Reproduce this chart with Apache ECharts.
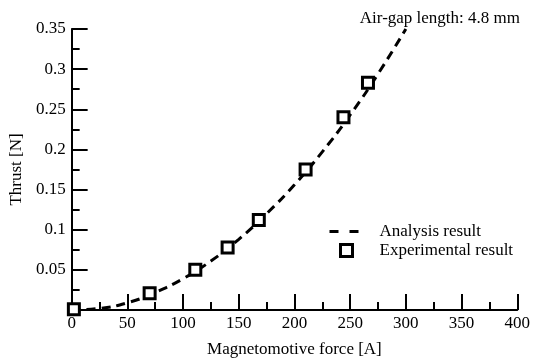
<!DOCTYPE html>
<html>
<head>
<meta charset="utf-8">
<script src="https://cdn.jsdelivr.net/npm/echarts@6/dist/echarts.min.js"></script>
<style>
  html, body { margin: 0; padding: 0; background: #fff; }
  #chart { width: 533px; height: 363px; }
</style>
</head>
<body>
<div id="chart"></div>
<script>
  // analysis curve
  const analysisForce = [0, 25, 50, 75, 100, 125, 150, 175, 200, 225, 250, 275, 300];
  const analysisThrust = [0, 0.002, 0.009, 0.022, 0.039, 0.061, 0.088, 0.12, 0.156, 0.197, 0.243, 0.294, 0.35];
  // measured points (squares)
  const expForce = [2, 70, 111, 140, 168, 210, 244, 266];
  const expThrust = [0.001, 0.021, 0.05, 0.078, 0.112, 0.175, 0.24, 0.283];

  const seriesNames = ['Analysis result', 'Experimental result'];
  const note = 'Air-gap length: 4.8 mm';
  const xName = 'Magnetomotive force [A]';
  const yName = 'Thrust [N]';

  const font = 'Liberation Serif';
  const fs = 17;

  const chart = echarts.init(document.getElementById('chart'));

  const axisCommon = {
    axisLine: {show: true, onZero: false, lineStyle: {color: '#000', width: 2}},
    axisTick: {show: true, inside: true, length: 16, lineStyle: {color: '#000', width: 2}},
    minorTick: {show: true, splitNumber: 2, length: 8, lineStyle: {color: '#000', width: 2}},
    splitLine: {show: false},
    nameTextStyle: {color: '#000', fontFamily: font, fontSize: fs},
    axisLabel: {color: '#000', fontFamily: font, fontSize: fs}
  };

  chart.setOption({
    animation: false,
    textStyle: {fontFamily: font},
    title: {
      text: note, right: 8, top: 5,
      textStyle: {fontFamily: font, fontSize: fs, fontWeight: 'normal', color: '#000'}
    },
    grid: {left: 68, right: 14, top: 29, bottom: 52, containLabel: false},
    legend: [{
      data: [seriesNames[0]],
      left: 328, top: 223, padding: 0,
      itemWidth: 30, itemHeight: 14,
      itemStyle: {opacity: 0},
      lineStyle: {color: '#000', width: 3, type: [9, 11]},
      textStyle: {fontFamily: font, fontSize: fs, color: '#000', padding: [0, 0, 0, 15]}
    }, {
      data: [seriesNames[1]],
      left: 339, top: 242, padding: 0,
      itemWidth: 12, itemHeight: 12,
      icon: 'rect',
      itemStyle: {color: '#fff', borderColor: '#000', borderWidth: 3},
      textStyle: {fontFamily: font, fontSize: fs, color: '#000', padding: [0, 0, 0, 22]}
    }],
    xAxis: Object.assign({}, axisCommon, {
      type: 'value', min: 0, max: 400, interval: 50,
      name: xName, nameLocation: 'middle', nameGap: 31,
      axisLabel: Object.assign({}, axisCommon.axisLabel, {margin: 5})
    }),
    yAxis: Object.assign({}, axisCommon, {
      type: 'value', min: 0, max: 0.35, interval: 0.05,
      name: yName, nameLocation: 'middle', nameGap: 46,
      axisLabel: Object.assign({}, axisCommon.axisLabel, {
        margin: 6, showMinLabel: false,
        formatter: v => String(+v.toFixed(2))
      })
    }),
    series: [{
      name: seriesNames[0],
      type: 'line',
      data: analysisForce.map((x, i) => [x, analysisThrust[i]]),
      smooth: true,
      symbol: 'none',
      lineStyle: {color: '#000', width: 3, type: [9, 6]},
      z: 2
    }, {
      name: seriesNames[1],
      type: 'scatter',
      data: expForce.map((x, i) => [x, expThrust[i]]),
      symbol: 'rect',
      symbolSize: 11,
      itemStyle: {color: '#fff', borderColor: '#000', borderWidth: 3, opacity: 1},
      z: 3
    }]
  });
</script>
</body>
</html>
